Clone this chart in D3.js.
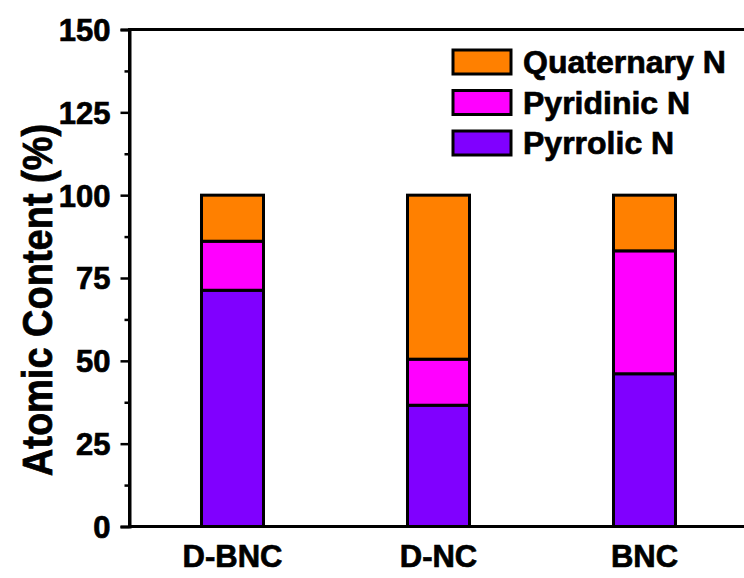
<!DOCTYPE html>
<html>
<head>
<meta charset="utf-8">
<script src="https://cdn.jsdelivr.net/npm/d3@7"></script>
<style>
  html, body { margin: 0; padding: 0; background: #fff; }
  svg { display: block; }
  text { font-family: "Liberation Sans", Arial, sans-serif; font-weight: bold; fill: #000;
         stroke: #000; stroke-width: 0.7px; }
</style>
</head>
<body>
<svg id="chart" width="744" height="578"></svg>
<script>
// Samples on the x axis
const categories = ["D-BNC", "D-NC", "BNC"];
// Nitrogen species, stacked bottom to top (atomic content, %)
const seriesNames = ["Pyrrolic N", "Pyridinic N", "Quaternary N"];
const pyrrolicN   = [71.3, 36.6, 46.1];
const pyridinicN  = [14.8, 13.9, 37.1];
const quaternaryN = [13.9, 49.5, 16.8];
const seriesColors = ["#8000FF", "#FF00FF", "#FF8000"];
// Y axis ticks
const majorTicks = [0, 25, 50, 75, 100, 125, 150];
const minorTicks = [12.5, 37.5, 62.5, 87.5, 112.5, 137.5];

const svg = d3.select("#chart");
const plotLeft = 129.5, plotRight = 747.5, plotTop = 29.5, plotBottom = 526.5;

const x = d3.scaleBand().domain(categories).range([plotLeft, plotRight])
  .paddingInner(0.699).paddingOuter(0.3495);
const y = d3.scaleLinear().domain([0, 150]).range([plotBottom, plotTop]);

const rows = categories.map((c, i) => ({
  cat: c,
  "Pyrrolic N": pyrrolicN[i],
  "Pyridinic N": pyridinicN[i],
  "Quaternary N": quaternaryN[i]
}));
const stacked = d3.stack().keys(seriesNames)(rows);
const color = d3.scaleOrdinal().domain(seriesNames).range(seriesColors);

// Stacked bars
svg.append("g").selectAll("g").data(stacked).join("g")
  .attr("fill", d => color(d.key))
  .selectAll("rect").data(d => d).join("rect")
  .attr("x", d => x(d.data.cat))
  .attr("width", x.bandwidth())
  .attr("y", d => y(d[1]))
  .attr("height", d => y(d[0]) - y(d[1]))
  .attr("stroke", "#000")
  .attr("stroke-width", 3);

// Frame (right edge falls outside the view)
svg.append("rect")
  .attr("x", plotLeft).attr("y", plotTop)
  .attr("width", plotRight - plotLeft).attr("height", plotBottom - plotTop)
  .attr("fill", "none").attr("stroke", "#000").attr("stroke-width", 3);

// Y axis: major ticks with labels
const yAxis = svg.append("g").attr("transform", `translate(${plotLeft},0)`)
  .call(d3.axisLeft(y).tickValues(majorTicks).tickSize(9).tickPadding(10).tickFormat(d3.format("d")));
yAxis.attr("font-family", null).attr("font-size", null);
yAxis.select(".domain").attr("stroke-width", 3);
yAxis.selectAll(".tick line").attr("stroke-width", 2.5);
yAxis.selectAll(".tick text")
  .attr("font-size", 31).attr("fill", "#000").attr("dy", "0.35em");

// Y axis: minor ticks
const yMinor = svg.append("g").attr("transform", `translate(${plotLeft},0)`)
  .call(d3.axisLeft(y).tickValues(minorTicks).tickSize(5).tickFormat(""));
yMinor.select(".domain").remove();
yMinor.selectAll(".tick line").attr("stroke-width", 2.5);

// X category labels
svg.append("g").selectAll("text").data(categories).join("text")
  .attr("x", d => x(d) + x.bandwidth() / 2)
  .attr("y", 567)
  .attr("text-anchor", "middle")
  .attr("font-size", 31)
  .text(d => d);

// Y axis title
svg.append("text")
  .attr("transform", "translate(52,300) rotate(-90) scale(1,1.12)")
  .attr("text-anchor", "middle")
  .attr("font-size", 38)
  .text("Atomic Content (%)");

// Legend, top entry first
const legendOrder = seriesNames.slice().reverse();
const legend = svg.append("g").selectAll("g").data(legendOrder).join("g")
  .attr("transform", (d, i) => `translate(453,${50 + i * 40.5})`);
legend.append("rect")
  .attr("width", 58).attr("height", 24)
  .attr("fill", d => color(d))
  .attr("stroke", "#000").attr("stroke-width", 3);
legend.append("text")
  .attr("x", 70).attr("y", 23)
  .attr("font-size", 32)
  .text(d => d);
</script>
</body>
</html>
